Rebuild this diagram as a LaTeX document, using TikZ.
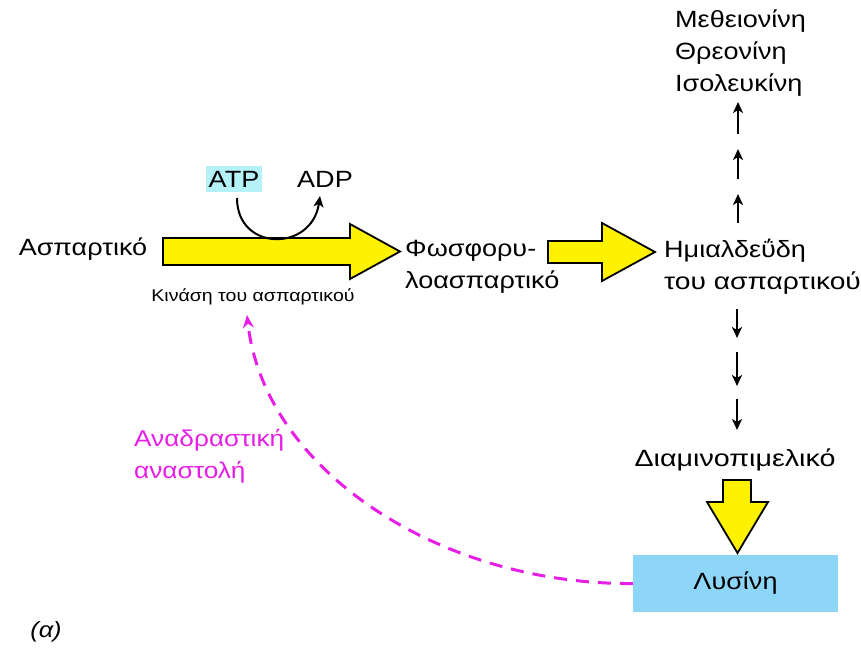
\documentclass[tikz,border=0pt]{standalone}
\usepackage{fontspec}
\setmainfont{Liberation Sans}[FakeStretch=1.15]
\usetikzlibrary{arrows.meta}
\definecolor{magentaF}{RGB}{230,30,230}
\definecolor{atpcyan}{RGB}{180,242,248}
\definecolor{lyscolor}{RGB}{142,214,248}
\begin{document}
\begin{tikzpicture}[x=1pt,y=-1pt,
  txt/.style={font=\fontsize{23.5}{32}\selectfont, inner sep=0pt, align=left},
  bigarrow/.style={fill=yellow, draw=black, line width=1.8pt, line join=miter},
  thinarr/.style={draw=black, line width=2pt, -{Stealth[length=11pt,width=10pt,inset=3pt]}},
  fb/.style={draw=magentaF, line width=3pt, dash pattern=on 13pt off 9pt, -{Stealth[length=13pt,width=11pt]}}]
\useasboundingbox (0,0) rectangle (861,651);

% text nodes
\node[txt] (asp) at (83,249) {Ασπαρτικό};
\node[txt, fill=atpcyan, inner xsep=3pt, inner ysep=5pt] (atp) at (234,179) {ATP};
\node[txt] (adp) at (325,179) {ADP};
\node[font=\fontsize{17}{20}\selectfont, inner sep=0pt] (kin) at (253,297) {Κινάση του ασπαρτικού};
\node[txt, anchor=west] (phos) at (405,267) {Φωσφορυ-\\λοασπαρτικό};
\node[txt, anchor=west] (semi) at (664,267) {Ημιαλδεΰδη\\{\addfontfeature{FakeStretch=1.2}του ασπαρτικού}};
\node[txt, anchor=west] (prod) at (675,53) {Μεθειονίνη\\Θρεονίνη\\Ισολευκίνη};
\node[txt, font=\fontsize{23.5}{32}\selectfont\addfontfeature{FakeStretch=1.22}] (dap) at (735,460) {Διαμινοπιμελικό};
\node[fill=lyscolor, minimum width=205pt, minimum height=57pt, inner sep=0pt,
      font=\fontsize{23.5}{32}\selectfont] (lys) at (735.5,583.5) {Λυσίνη};
\node[txt, font=\fontsize{22.8}{32}\selectfont, text=magentaF, anchor=west] (fbt) at (134,456) {Αναδραστική\\αναστολή};
\node[font=\fontsize{22}{26}\selectfont\itshape, inner sep=0pt] (lab) at (46,632) {(α)};

% big yellow arrows
\draw[bigarrow] (163,238) -- (350,238) -- (350,224) -- (400,251.5) -- (350,279) -- (350,265) -- (163,265) -- cycle;
\draw[bigarrow] (548,241) -- (602,241) -- (602,223) -- (655,252) -- (602,281) -- (602,263) -- (548,263) -- cycle;
\draw[bigarrow] (723,480) -- (751,480) -- (751,502) -- (768,502) -- (737.5,553) -- (707,502) -- (723,502) -- cycle;

% ATP -> ADP curved arrow
\coordinate (atpout) at (237,198);
\coordinate (adpin) at (320,196);
\draw[thinarr] (atpout) .. controls (237,252) and (312,252) .. (adpin);

% up arrows
\coordinate (u1a) at (738,134); \coordinate (u1b) at (738,102);
\coordinate (u2a) at (738,179); \coordinate (u2b) at (738,149);
\coordinate (u3a) at (738,223); \coordinate (u3b) at (738,194);
\draw[thinarr] (u1a) -- (u1b);
\draw[thinarr] (u2a) -- (u2b);
\draw[thinarr] (u3a) -- (u3b);

% down arrows
\coordinate (d1a) at (737,309); \coordinate (d1b) at (737,338);
\coordinate (d2a) at (737,352); \coordinate (d2b) at (737,386);
\coordinate (d3a) at (737,399); \coordinate (d3b) at (737,430);
\draw[thinarr] (d1a) -- (d1b);
\draw[thinarr] (d2a) -- (d2b);
\draw[thinarr] (d3a) -- (d3b);

% feedback inhibition
\coordinate (fbend) at (247,315);
\draw[fb] (lys.west) .. controls (440,585) and (264,470) .. (fbend);
\end{tikzpicture}
\end{document}
